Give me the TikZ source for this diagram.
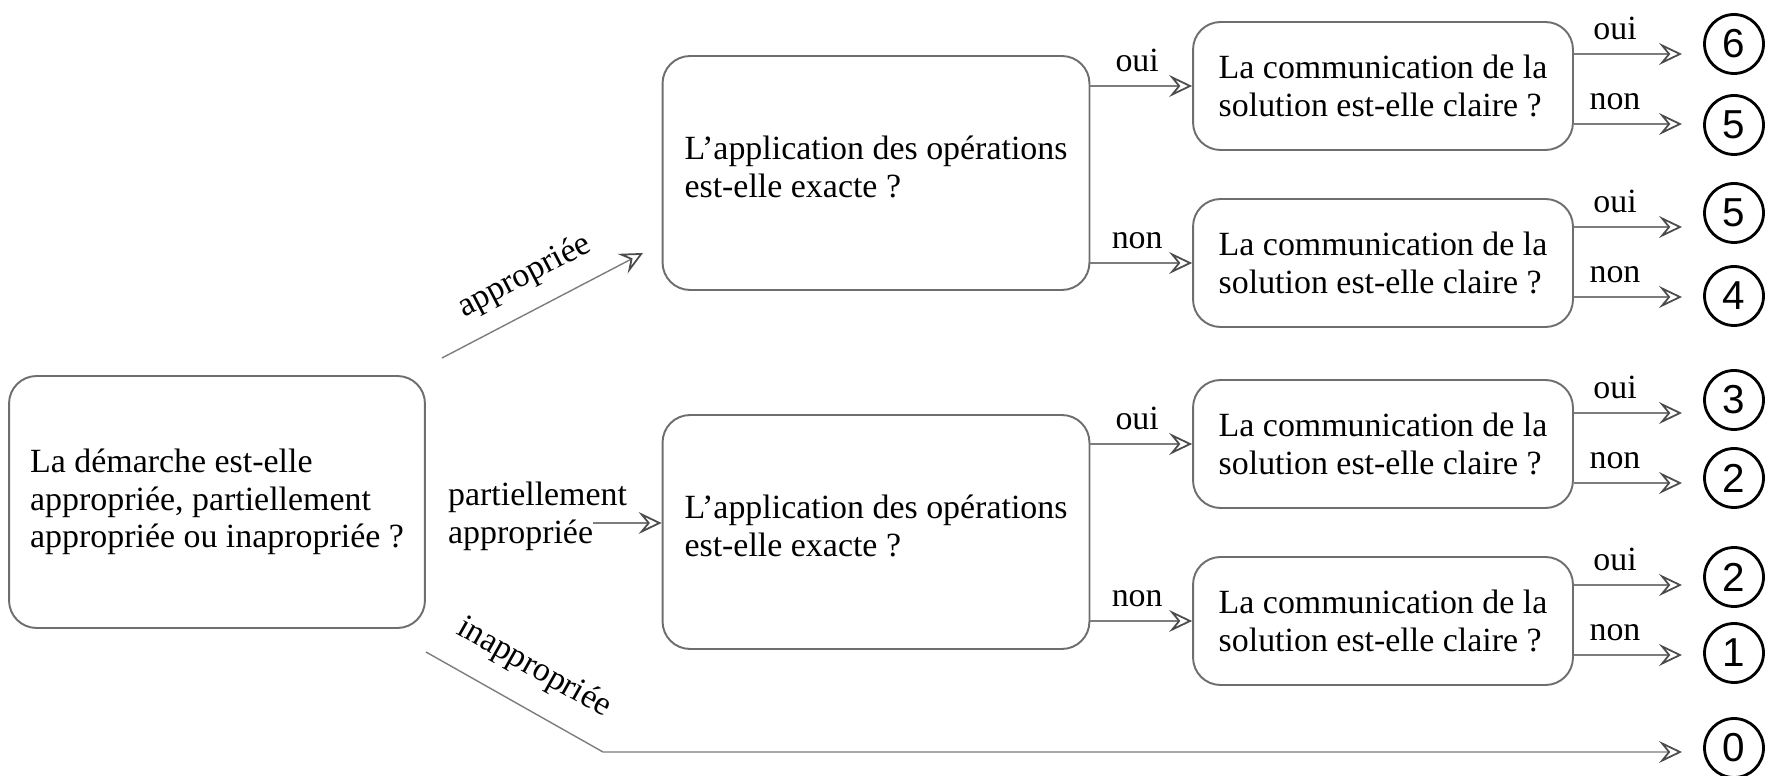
\documentclass[tikz,border=0pt]{standalone}
\usepackage{fontspec}
\setmainfont{Liberation Serif}
\newfontfamily\chiffre{Liberation Sans}
\usetikzlibrary{arrows.meta}
\definecolor{gristrait}{RGB}{125,125,125}
\definecolor{grisbord}{RGB}{110,110,110}

\begin{document}
\begin{tikzpicture}
   [
    x=0.02cm, y=-0.02cm,
    every node/.style={inner sep=0pt, font=\fontsize{19.3}{21.5}\selectfont},
    boite/.style={rectangle, rounded corners=0.55cm, draw=grisbord,
                  line width=1.1pt, align=left},
    grande/.style={boite, minimum width=8.32cm, minimum height=5.04cm},
    moyenne/.style={boite, minimum width=8.54cm, minimum height=4.68cm},
    petite/.style={boite, minimum width=7.6cm, minimum height=2.56cm},
    note/.style={circle, draw=black, line width=1.6pt, minimum size=1.18cm,
                 font=\chiffre\fontsize{23}{23}\selectfont},
    fleche/.style={draw=gristrait, line width=0.8pt,
                   -{Stealth[open, length=0.46cm, width=0.44cm, inset=0.18cm,
                     line width=1pt, color=black!70]}},
    etiq/.style={inner sep=1pt}
   ]

\useasboundingbox (0,0) rectangle (1782,776);

% question 1
\node[grande] (demarche) at (217,502)
  {La démarche est-elle\\appropriée, partiellement\\appropriée ou inapropriée ?};

% questions 2
\node[moyenne] (op1) at (876,173) {L’application des opérations\\est-elle exacte ?\\[-14pt]};
\node[moyenne] (op2) at (876,532) {L’application des opérations\\est-elle exacte ?\\[-14pt]};

% questions 3
\node[petite] (com1) at (1383,86)  {La communication de la\\solution est-elle claire ?};
\node[petite] (com2) at (1383,263) {La communication de la\\solution est-elle claire ?};
\node[petite] (com3) at (1383,444) {La communication de la\\solution est-elle claire ?};
\node[petite] (com4) at (1383,621) {La communication de la\\solution est-elle claire ?};

% notes
\node[note] (n6)  at (1734,44)  {6};
\node[note] (n5a) at (1734,125) {5};
\node[note] (n5b) at (1734,213) {5};
\node[note] (n4)  at (1734,296) {4};
\node[note] (n3)  at (1734,400) {3};
\node[note] (n2a) at (1734,478) {2};
\node[note] (n2b) at (1734,577) {2};
\node[note] (n1)  at (1734,653) {1};
\node[note] (n0)  at (1734,748) {0};

% free ends
\coordinate (a1) at (442,358);
\coordinate (a2) at (643,253);
\coordinate (p1) at (593,523);
\coordinate (i1) at (426,652);
\coordinate (i2) at (603,752);
\coordinate (b6)  at (1682,54);
\coordinate (b5a) at (1682,124);
\coordinate (b5b) at (1682,227);
\coordinate (b4)  at (1682,297);
\coordinate (b3)  at (1682,413);
\coordinate (b2a) at (1682,483);
\coordinate (b2b) at (1682,585);
\coordinate (b1)  at (1682,655);
\coordinate (b0)  at (1682,752);

% lv1
\draw[fleche] (a1) -- node[etiq, sloped, above=9pt, pos=.49] {appropriée} (a2);
\node[etiq, align=left, anchor=west] (partiel) at (446,516) {partiellement\\appropriée};
\draw[fleche] (p1) -- (op2.west |- p1);
\draw[fleche] (i1) -- node[etiq, sloped, above=12pt, pos=.5] {inappropriée} (i2) -- (b0);

% lv2
\draw[fleche] (op1.east |- com1.west) -- node[etiq, above=6.5pt, pos=.46] {oui} (com1.west);
\draw[fleche] (op1.east |- com2.west) -- node[etiq, above=6.5pt, pos=.46] {non} (com2.west);
\draw[fleche] (op2.east |- com3.west) -- node[etiq, above=6.5pt, pos=.46] {oui} (com3.west);
\draw[fleche] (op2.east |- com4.west) -- node[etiq, above=6.5pt, pos=.46] {non} (com4.west);

% lv3
\draw[fleche] (com1.east |- b6)  -- node[etiq, above=6.5pt, pos=.38] {oui} (b6);
\draw[fleche] (com1.east |- b5a) -- node[etiq, above=6.5pt, pos=.38] {non} (b5a);
\draw[fleche] (com2.east |- b5b) -- node[etiq, above=6.5pt, pos=.38] {oui} (b5b);
\draw[fleche] (com2.east |- b4)  -- node[etiq, above=6.5pt, pos=.38] {non} (b4);
\draw[fleche] (com3.east |- b3)  -- node[etiq, above=6.5pt, pos=.38] {oui} (b3);
\draw[fleche] (com3.east |- b2a) -- node[etiq, above=6.5pt, pos=.38] {non} (b2a);
\draw[fleche] (com4.east |- b2b) -- node[etiq, above=6.5pt, pos=.38] {oui} (b2b);
\draw[fleche] (com4.east |- b1)  -- node[etiq, above=6.5pt, pos=.38] {non} (b1);

\end{tikzpicture}
\end{document}
